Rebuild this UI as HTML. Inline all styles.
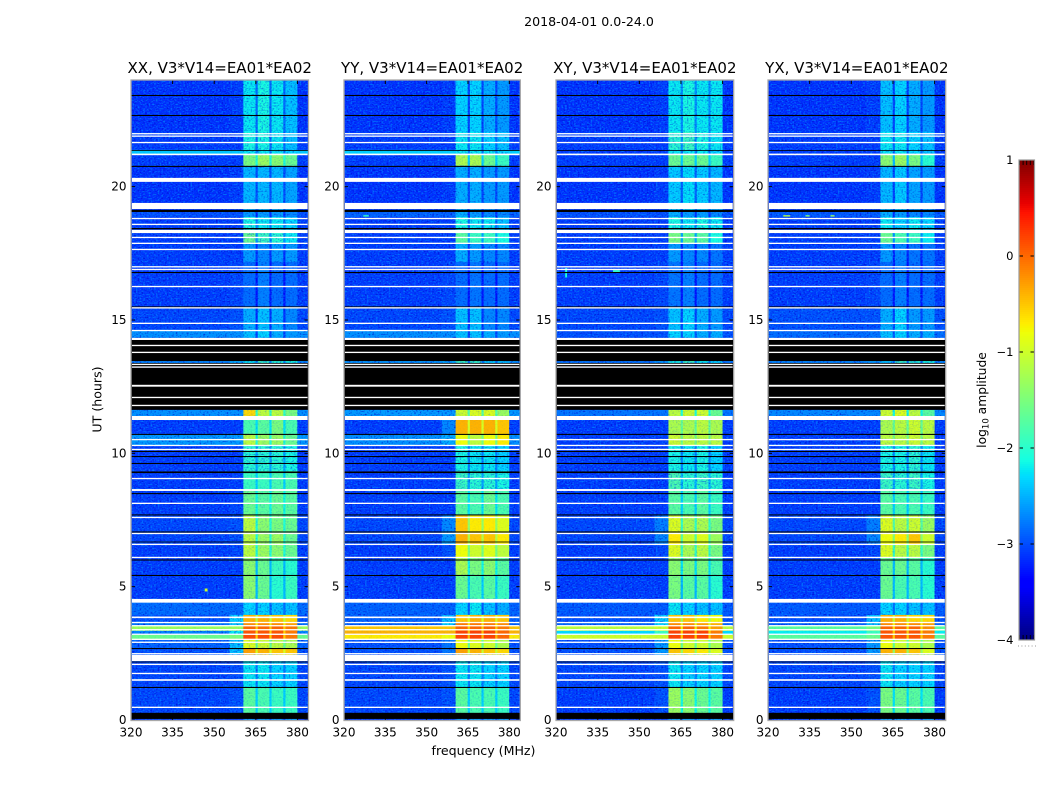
<!DOCTYPE html>
<html lang="en">
<head>
<meta charset="utf-8">
<title>2018-04-01 0.0-24.0 dynamic spectra</title>
<style>
html,body{margin:0;padding:0;background:#fff;}
svg{display:block;font-family:"DejaVu Sans","Liberation Sans",sans-serif;}
text{fill:#000;}
</style>
</head>
<body>
<svg id="figure" xmlns="http://www.w3.org/2000/svg" width="1050" height="800" viewBox="0 0 1050 800">
<defs>
<filter id="grainDark" x="0" y="0" width="1" height="1" color-interpolation-filters="sRGB">
<feTurbulence type="fractalNoise" baseFrequency="0.55 0.7" numOctaves="1" seed="4"/>
<feColorMatrix type="matrix" values="0 0 0 0 0  0 0 0 0 0  0 0 0 0 0.78  2.4 0 0 0 -1.2"/>
</filter>
<filter id="grainLight" x="0" y="0" width="1" height="1" color-interpolation-filters="sRGB">
<feTurbulence type="fractalNoise" baseFrequency="0.55 0.7" numOctaves="1" seed="11"/>
<feColorMatrix type="matrix" values="0 0 0 0 0  0 0 0 0 0.55  0 0 0 0 1  2.6 0 0 0 -1.25"/>
</filter>
</defs>
<text x="589" y="26" font-size="12.6" text-anchor="middle">2018-04-01 0.0-24.0</text>
<text x="483.5" y="755" font-size="12.6" text-anchor="middle">frequency (MHz)</text>
<text transform="translate(101.5 399.5) rotate(-90)" font-size="12.6" text-anchor="middle">UT (hours)</text>
<text transform="translate(986 400) rotate(-90)" font-size="12.3" text-anchor="middle">log<tspan font-size="8.5" dy="2.5">10</tspan><tspan dy="-2.5"> amplitude</tspan></text>
<g id="panels"></g>
<g id="colorbar"></g>
</svg>
<script>
// Axis domains and labels
const freqTicks = [320, 335, 350, 365, 380];
const hourTicks = [0, 5, 10, 15, 20];
const colorTicks = [1, 0, -1, -2, -3, -4];
const panelTitles = ['XX, V3*V14=EA01*EA02', 'YY, V3*V14=EA01*EA02', 'XY, V3*V14=EA01*EA02', 'YX, V3*V14=EA01*EA02'];
const freqDomain = [320, 384];
const hourDomain = [0, 24];
const colorDomain = [-4, 1];

// Frequency edges (MHz): off-band, shoulder, four sub-bands with gaps, off-band
const subbandEdges = [[360.5, 364.9], [365.7, 369.9], [370.7, 374.9], [375.7, 380]];
const shoulderStart = 355.5;

// Upper hour edge of each science row (UT hours), final entry is the lower edge of the last row
const rowEdges = [24, 22.05, 21.38, 21.19, 20.78, 19.13, 18.86, 18.26, 17.89, 17.18, 15.49, 14.63, 14.33, 13.46, 13.39, 11.63, 11.4, 11.25, 10.73, 10.31, 9.34, 8.63, 7.69, 7.01, 6.6, 6.11, 5.44, 4.54, 4.43, 3.94, 3.68, 3.53, 3.34, 3.19, 3.0, 2.7, 2.44, 2.21, 1.2, 0.26, 0];

// log10 amplitude per row: [off-band, shoulder, sub1, sub2, sub3, sub4]
const levelsXX = [
[-3.15,-3.1,-2.2,-2.1,-2.2,-2.4],[-3.1,-3.1,-2.1,-2.1,-2.2,-2.4],[-2.4,-2.4,-2.2,-2.2,-2.2,-2.3],[-3.1,-3.1,-1.5,-1.3,-1.4,-1.6],
[-3.15,-3.1,-2.45,-2.45,-2.45,-2.55],[-3.0,-3.0,-2.6,-2.6,-2.6,-2.7],[-3.1,-3.1,-2.1,-2.2,-2.2,-2.3],[-3.1,-3.1,-1.6,-1.9,-2.0,-2.2],
[-3.1,-3.1,-2.6,-2.7,-2.6,-2.6],[-3.1,-3.05,-2.85,-2.75,-2.85,-2.85],[-3.05,-3.0,-2.5,-2.4,-2.5,-2.7],[-2.65,-2.65,-2.4,-2.3,-2.5,-2.6],
[-3.1,-3.1,-3,-3,-3,-3],[-2.7,-2.5,-2.2,-1.9,-2.0,-2.1],[-3.1,-3.1,-3,-3,-3,-3],[-2.65,-2.65,-0.6,-1.1,-1.1,-1.5],
[-3.1,-3.1,-2,-2,-2,-2],[-3.1,-3.1,-1.8,-1.7,-1.5,-1.8],[-2.6,-2.6,-1.1,-1.3,-1.3,-1.6],[-3.1,-3.1,-2.0,-2.0,-2.0,-2.1],
[-3.1,-3.1,-1.9,-1.9,-1.8,-1.8],[-3.1,-3.05,-1.6,-1.7,-1.6,-1.7],[-3.05,-3.0,-1.1,-1.4,-1.5,-1.6],[-3.05,-3.0,-1.1,-1.3,-1.3,-1.6],
[-3.1,-3.05,-1.1,-1.3,-1.4,-1.6],[-3.1,-3.1,-1.4,-1.6,-1.9,-2.0],[-3.1,-3.1,-1.4,-1.6,-2.0,-1.9],[-3,-3,-2,-2,-2,-2],
[-2.85,-2.85,-2.3,-2.3,-2.4,-2.4],[-3.0,-2.3,-0.4,-0.4,-0.5,-0.6],[-2.8,-2.4,-0.2,-0.2,-0.2,-0.3],[-1.3,-1.3,0,0,0,-0.1],[-2.7,-2.2,0.1,0.1,0.1,-0.1],[-1.6,-1.5,0.15,0.15,0.15,-0.1],
[-2.9,-2.4,-0.9,-1.0,-1.1,-1.2],[-3.0,-2.4,-0.3,-0.4,-0.5,-0.5],[-3,-3,-2,-2,-2,-2],[-3.05,-3.0,-2.2,-2.2,-2.3,-2.3],
[-3.05,-3.0,-1.7,-1.8,-1.9,-1.9],[-3.1,-3.1,-2.6,-2.6,-2.6,-2.6]];
const levelsYY = [
[-3.15,-3.1,-2.3,-2.3,-2.5,-2.6],[-3.1,-3.1,-2.2,-2.2,-2.3,-2.4],[-2.35,-2.35,-2.2,-2.2,-2.2,-2.3],[-3.1,-3.1,-1.2,-1.2,-1.6,-1.9],
[-3.15,-3.1,-2.5,-2.5,-2.6,-2.6],[-2.9,-2.9,-2.5,-2.6,-2.7,-2.7],[-3.1,-3.1,-2.1,-2.2,-2.2,-2.4],[-3.1,-3.1,-1.7,-1.9,-1.9,-2.1],
[-3.1,-3.1,-2.5,-2.6,-2.7,-2.7],[-3.1,-3.05,-2.85,-2.8,-2.85,-2.85],[-3.05,-3.0,-2.4,-2.4,-2.7,-2.7],[-2.65,-2.65,-2.4,-2.4,-2.5,-2.6],
[-3.1,-3.1,-3,-3,-3,-3],[-2.6,-2.5,-1.9,-1.9,-2.3,-2.4],[-3.1,-3.1,-3,-3,-3,-3],[-2.6,-2.6,-1.0,-0.9,-0.9,-1.3],
[-3.1,-3.1,-2,-2,-2,-2],[-3.1,-2.7,-0.4,-0.4,-0.4,-0.5],[-2.65,-2.5,-0.8,-1.1,-0.8,-0.7],[-3.1,-3.1,-2.1,-2.2,-2.2,-2.3],
[-3.1,-3.1,-1.9,-2.0,-2.0,-2.1],[-3.1,-3.1,-1.7,-1.8,-1.6,-1.8],[-3.05,-2.7,-0.5,-0.7,-0.7,-0.9],[-3.05,-2.6,-0.4,-0.5,-0.5,-0.7],
[-3.1,-3.0,-0.8,-1.0,-0.9,-1.1],[-3.1,-3.1,-1.2,-1.5,-1.4,-1.7],[-3.1,-3.1,-1.6,-1.8,-1.7,-1.9],[-3,-3,-2,-2,-2,-2],
[-2.9,-2.9,-2.3,-2.2,-2.4,-2.5],[-2.9,-2.4,-0.5,-0.4,-0.4,-0.5],[-2.9,-2.3,-0.1,-0.1,-0.1,-0.2],[-0.5,-0.5,0,0,0,-0.1],[-0.4,-0.4,0.2,0.2,0.2,0],[-0.7,-0.8,0.2,0.2,0.2,0],
[-3.0,-2.8,-0.8,-0.9,-1.0,-1.2],[-3.0,-2.8,-0.3,-0.4,-0.5,-0.6],[-3,-3,-2,-2,-2,-2],[-3.05,-3.0,-2.2,-2.2,-2.3,-2.3],
[-3.05,-3.0,-1.7,-1.8,-1.8,-1.9],[-3.1,-3.1,-2.6,-2.6,-2.6,-2.6]];
const levelsXY = [
[-3.15,-3.1,-2.2,-2.1,-2.2,-2.2],[-3.1,-3.1,-2.0,-1.9,-2.1,-2.2],[-3.1,-3.1,-2.2,-2.2,-2.2,-2.3],[-3.1,-3.1,-1.6,-1.6,-1.6,-1.9],
[-3.15,-3.1,-2.35,-2.25,-2.35,-2.45],[-3.0,-3.0,-2.5,-2.6,-2.6,-2.7],[-3.1,-3.1,-2.1,-2.2,-2.1,-2.2],[-3.1,-3.1,-1.5,-1.6,-1.7,-2.1],
[-3.1,-3.1,-2.6,-2.7,-2.7,-2.8],[-3.1,-3.05,-2.8,-2.75,-2.85,-2.85],[-3.05,-3.0,-2.4,-2.3,-2.5,-2.6],[-3.0,-3.0,-2.3,-2.3,-2.5,-2.5],
[-3.1,-3.1,-3,-3,-3,-3],[-2.8,-2.6,-2.1,-1.9,-2.2,-2.3],[-3.1,-3.1,-3,-3,-3,-3],[-2.8,-2.8,-1.1,-1.0,-1.0,-1.6],
[-3.1,-3.1,-2,-2,-2,-2],[-3.1,-3.1,-1.2,-1.2,-1.1,-1.2],[-3.1,-3.1,-1.0,-1.1,-1.1,-1.1],[-3.1,-3.1,-2.1,-2.2,-2.1,-2.3],
[-3.1,-3.1,-1.8,-2.0,-1.9,-2.0],[-3.1,-3.1,-1.7,-1.8,-1.7,-1.9],[-3.05,-2.75,-0.9,-1.2,-1.2,-1.5],[-3.05,-2.7,-0.7,-1.0,-0.9,-1.3],
[-3.1,-3.05,-0.9,-1.2,-1.1,-1.5],[-3.1,-3.1,-1.4,-1.5,-1.5,-1.8],[-3.1,-3.1,-1.5,-1.7,-1.7,-2.0],[-3,-3,-2,-2,-2,-2],
[-2.95,-2.95,-2.2,-2.3,-2.4,-2.4],[-3.0,-2.3,-0.5,-0.5,-0.7,-0.8],[-2.9,-2.3,-0.2,-0.2,-0.3,-0.4],[-1.1,-1.0,0,0,-0.1,-0.3],[-2.3,-1.9,0.2,0.2,0.2,-0.1],[-1.0,-1.0,0.2,0.2,0.2,-0.1],
[-3.0,-2.6,-0.8,-1.0,-1.0,-1.2],[-3.0,-2.6,-0.5,-0.6,-0.7,-0.9],[-3,-3,-2,-2,-2,-2],[-3.05,-3.0,-2.2,-2.3,-2.3,-2.3],
[-3.1,-3.0,-1.3,-1.4,-1.6,-1.7],[-3.1,-3.1,-2.6,-2.6,-2.6,-2.6]];
const levelsYX = [
[-3.15,-3.1,-2.4,-2.3,-2.5,-2.6],[-3.1,-3.1,-2.2,-2.2,-2.3,-2.4],[-3.1,-3.1,-2.2,-2.2,-2.3,-2.4],[-3.1,-3.1,-1.4,-1.3,-1.5,-2.0],
[-3.15,-3.1,-2.45,-2.35,-2.55,-2.6],[-2.95,-2.95,-2.5,-2.6,-2.7,-2.7],[-3.1,-3.1,-2.2,-2.3,-2.2,-2.3],[-3.1,-3.1,-1.6,-1.8,-1.9,-2.2],
[-3.1,-3.1,-2.6,-2.7,-2.8,-2.8],[-3.1,-3.05,-2.85,-2.75,-2.85,-2.85],[-3.0,-3.0,-2.5,-2.3,-2.6,-2.6],[-2.85,-2.8,-2.4,-2.3,-2.5,-2.5],
[-3.1,-3.1,-3,-3,-3,-3],[-2.7,-2.6,-2.4,-1.9,-2.0,-2.1],[-3.1,-3.1,-3,-3,-3,-3],[-2.7,-2.7,-1.0,-0.9,-1.1,-1.7],
[-3.1,-3.1,-2,-2,-2,-2],[-3.1,-3.1,-1.2,-1.1,-1.0,-1.1],[-3.1,-3.1,-1.1,-1.1,-1.0,-1.1],[-3.1,-3.1,-2.1,-2.1,-2.0,-2.2],
[-3.1,-3.1,-1.9,-2.0,-1.9,-2.1],[-3.1,-3.1,-1.7,-1.8,-1.8,-1.9],[-3.05,-2.75,-0.9,-1.1,-1.0,-1.3],[-3.05,-2.7,-0.8,-0.7,-0.5,-1.0],
[-3.1,-3.05,-0.9,-1.1,-1.1,-1.5],[-3.1,-3.1,-1.6,-1.6,-1.7,-2.0],[-3.1,-3.1,-1.6,-1.8,-1.8,-2.0],[-3,-3,-2,-2,-2,-2],
[-2.95,-2.95,-2.3,-2.3,-2.4,-2.4],[-3.0,-2.4,-0.4,-0.4,-0.6,-0.6],[-2.9,-2.4,-0.2,-0.2,-0.2,-0.3],[-1.7,-1.5,0,0,0,-0.2],[-2.2,-1.9,0.1,0.1,0.1,-0.1],[-1.7,-1.6,0.1,0.1,0.1,-0.1],
[-3.0,-2.6,-0.8,-1.0,-1.0,-1.2],[-3.0,-2.6,-0.4,-0.4,-0.5,-0.9],[-3,-3,-2,-2,-2,-2],[-3.05,-3.0,-2.2,-2.3,-2.3,-2.3],
[-3.1,-3.0,-1.5,-1.6,-1.7,-1.8],[-3.1,-3.1,-2.6,-2.6,-2.6,-2.6]];
const panelLevels = [levelsXX, levelsYY, levelsXY, levelsYX];

// Isolated interference: [panel, start MHz, end MHz, upper hour, lower hour, log10 amplitude]
const spikes = [[0,346.6,347.6,4.93,4.82,-1.0],[0,344.6,345.4,14.9,14.85,-1.0],[1,327,329,18.93,18.88,-1.9],[3,325.5,328,18.93,18.88,-1.1],[3,333.5,335,18.93,18.88,-1.4],[3,342.5,344,18.93,18.88,-1.3],[2,323.3,324,16.95,16.6,-2.1],[2,340.5,343,16.87,16.8,-2.0]];

// Zero-amplitude (black) and flagged (white) time ranges, UT hours [upper, lower]
const blackHours = [[23.44,23.40],[22.69,22.65],[21.37,21.34],[20.78,20.74],[19.13,19.05],[18.45,18.40],[16.80,16.76],[15.51,15.47],[14.25,13.46],[13.39,13.21],[13.21,11.63],[10.73,10.69],[10.09,10.05],[9.90,9.86],[9.64,9.60],[9.32,9.26],[8.51,8.47],[7.71,7.67],[7.07,7.03],[6.69,6.66],[6.02,5.98],[5.44,5.40],[2.70,2.66],[2.19,2.16],[1.24,1.20],[0.27,0.04]];
const whiteHours = [[22.01,21.96],[21.92,21.87],[21.68,21.63],[21.24,21.18],[20.33,20.18],[19.39,19.16],[18.83,18.78],[18.61,18.56],[18.38,18.26],[18.12,18.07],[17.90,17.85],[17.67,17.62],[17.02,16.97],[16.92,16.87],[16.28,16.23],[15.48,15.43],[14.90,14.85],[14.63,14.58],[14.33,14.25],[14.07,14.02],[13.81,13.76],[13.36,13.31],[13.26,13.21],[12.57,12.50],[12.12,12.07],[11.82,11.77],[11.40,11.25],[10.54,10.49],[10.32,10.27],[10.17,10.12],[9.08,9.03],[8.66,8.59],[8.15,8.10],[7.62,7.57],[7.02,6.97],[6.61,6.56],[6.12,6.07],[4.54,4.40],[3.88,3.82],[3.68,3.63],[3.56,3.51],[3.41,3.36],[3.24,3.19],[3.05,3.00],[2.94,2.89],[2.51,2.46],[2.44,2.21],[2.11,2.06],[1.77,1.72],[1.53,1.47],[0.50,0.45]];

// Layout
const plotLeft = [131, 344, 556, 768];
const plotRight = [308.5, 520.3, 733.7, 945.7];
const plotTop = 80, plotBottom = 720.5;
const barLeft = 1019, barRight = 1034.5, barTop = 160, barBottom = 640;
const NS = 'http://www.w3.org/2000/svg';

function make(tag, attrs, parent, text) {
  const el = document.createElementNS(NS, tag);
  for (const k in attrs) el.setAttribute(k, attrs[k]);
  if (text !== undefined) el.textContent = text;
  parent.appendChild(el);
  return el;
}
function seg(p, pts) {
  for (let i = 1; i < pts.length; i++) {
    if (p <= pts[i][0]) {
      const a = pts[i - 1], b = pts[i];
      return a[1] + (b[1] - a[1]) * (p - a[0]) / (b[0] - a[0]);
    }
  }
  return pts[pts.length - 1][1];
}
function jet(v) {
  const p = Math.max(0, Math.min(1, (v - colorDomain[0]) / (colorDomain[1] - colorDomain[0])));
  const r = seg(p, [[0,0],[.35,0],[.66,1],[.89,1],[1,.5]]);
  const g = seg(p, [[0,0],[.125,0],[.375,1],[.64,1],[.91,0],[1,0]]);
  const b = seg(p, [[0,.5],[.11,1],[.34,1],[.65,0],[1,0]]);
  return 'rgb(' + Math.round(r * 255) + ',' + Math.round(g * 255) + ',' + Math.round(b * 255) + ')';
}
function yScale(h) {
  return plotBottom - 0.5 - (h - hourDomain[0]) / (hourDomain[1] - hourDomain[0]) * (plotBottom - 0.5 - plotTop);
}
function xScaleFor(i) {
  return function (f) {
    return plotLeft[i] + (f - freqDomain[0]) / (freqDomain[1] - freqDomain[0]) * (plotRight[i] - plotLeft[i]);
  };
}

const panelsRoot = document.getElementById('panels');

panelTitles.forEach(function (title, i) {
  const x = xScaleFor(i);
  const g = make('g', {}, panelsRoot);
  
  

  const levels = panelLevels[i];
  levels.forEach(function (row, r) {
    const y0 = yScale(rowEdges[r]), y1 = yScale(rowEdges[r + 1]);
    const gap = Math.min(row[2], row[3], row[4], row[5]) - 0.45;
    const columns = [
      [freqDomain[0], shoulderStart, row[0]],
      [shoulderStart, subbandEdges[0][0], row[1]],
      [subbandEdges[0][0], subbandEdges[0][1], row[2]],
      [subbandEdges[0][1], subbandEdges[1][0], gap],
      [subbandEdges[1][0], subbandEdges[1][1], row[3]],
      [subbandEdges[1][1], subbandEdges[2][0], gap],
      [subbandEdges[2][0], subbandEdges[2][1], row[4]],
      [subbandEdges[2][1], subbandEdges[3][0], gap],
      [subbandEdges[3][0], subbandEdges[3][1], row[5]],
      [subbandEdges[3][1], freqDomain[1], row[0]]
    ];
    columns.forEach(function (c) {
      const cell = make('rect', {x: x(c[0]).toFixed(2), y: y0.toFixed(2), width: (x(c[1]) - x(c[0]) + 0.3).toFixed(2), height: (y1 - y0 + 0.3).toFixed(2), fill: jet(c[2])}, g);
      
      
    });

    // Pixel-level texture: strong on faint rows, almost none on bright rows
    const bandMean = (row[2] + row[3] + row[4] + row[5]) / 4;
    const offStrength = row[0] < -2.5 ? 1 : 0.1;
    const onStrength = bandMean < -1.9 ? 0.7 : (bandMean < -1 ? 0.25 : 0.08);
    [[freqDomain[0], subbandEdges[0][0], offStrength], [subbandEdges[0][0], subbandEdges[3][1], onStrength], [subbandEdges[3][1], freqDomain[1], offStrength]].forEach(function (zone) {
      ['grainDark', 'grainLight'].forEach(function (fid) {
        const n = make('rect', {x: x(zone[0]).toFixed(2), y: y0.toFixed(2), width: (x(zone[1]) - x(zone[0])).toFixed(2), height: (y1 - y0).toFixed(2), filter: 'url(#' + fid + ')', opacity: zone[2]}, g);
        
        
      });
    });
  });

  spikes.filter(function (s) { return s[0] === i; }).forEach(function (s) {
    const el = make('rect', {x: x(s[1]).toFixed(2), y: yScale(s[3]).toFixed(2), width: (x(s[2]) - x(s[1])).toFixed(2), height: (yScale(s[4]) - yScale(s[3])).toFixed(2), fill: jet(s[5])}, g);
    
    
  });

  blackHours.forEach(function (b) {
    const el = make('rect', {x: plotLeft[i], y: yScale(b[0]).toFixed(2), width: plotRight[i] - plotLeft[i], height: (yScale(b[1]) - yScale(b[0])).toFixed(2), fill: '#000'}, g);
    
    
  });
  whiteHours.forEach(function (b) {
    const el = make('rect', {x: plotLeft[i] + 1, y: yScale(b[0]).toFixed(2), width: plotRight[i] - plotLeft[i] - 2, height: (yScale(b[1]) - yScale(b[0])).toFixed(2), fill: '#fff'}, g);
    
    
  });

  freqTicks.forEach(function (f) {
    const px = x(f);
    const t1 = make('line', {x1: px, x2: px, y1: plotBottom, y2: plotBottom - 4, stroke: '#000', 'stroke-width': 1}, g);
    
    
    const t2 = make('line', {x1: px, x2: px, y1: plotTop, y2: plotTop + 4, stroke: '#000', 'stroke-width': 1}, g);
    
    
    const lab = make('text', {x: px, y: 736.5, 'font-size': 12, 'text-anchor': 'middle'}, g, String(f));
    
    
  });
  hourTicks.forEach(function (h) {
    const py = yScale(h);
    const t1 = make('line', {x1: plotLeft[i], x2: plotLeft[i] + 4, y1: py, y2: py, stroke: '#000', 'stroke-width': 1}, g);
    
    
    const t2 = make('line', {x1: plotRight[i], x2: plotRight[i] - 4, y1: py, y2: py, stroke: '#000', 'stroke-width': 1}, g);
    
    
    const lab = make('text', {x: plotLeft[i] - 4.5, y: py + 4, 'font-size': 12, 'text-anchor': 'end'}, g, String(h));
    
    
  });

  const frame = make('rect', {x: plotLeft[i], y: plotTop, width: plotRight[i] - plotLeft[i], height: plotBottom - plotTop, fill: 'none', stroke: '#a8a8a8', 'stroke-width': 1.3}, g);
  
  

  const ttl = make('text', {x: (plotLeft[i] + plotRight[i]) / 2, y: 73, 'font-size': 15, 'text-anchor': 'middle'}, g, title);
  
  
});

// Colorbar
const cbar = document.getElementById('colorbar');
function barY(v) {
  return barBottom - (v - colorDomain[0]) / (colorDomain[1] - colorDomain[0]) * (barBottom - barTop);
}
for (let py = barTop; py < barBottom; py += 2) {
  const v = colorDomain[1] - (py + 1 - barTop) / (barBottom - barTop) * (colorDomain[1] - colorDomain[0]);
  const s = make('rect', {x: barLeft, y: py, width: barRight - barLeft, height: 2.2, fill: jet(v)}, cbar);
  
  
}
colorTicks.forEach(function (v) {
  const py = barY(v);
  if (v !== colorDomain[0] && v !== colorDomain[1]) {
    const a = make('line', {x1: barLeft, x2: barLeft + 4, y1: py, y2: py, stroke: '#000', 'stroke-width': 1}, cbar);
    
    
    const b = make('line', {x1: barRight, x2: barRight - 4, y1: py, y2: py, stroke: '#000', 'stroke-width': 1}, cbar);
    
    
  }
  const lab = make('text', {x: 1013.5, y: py + 4, 'font-size': 11.5, 'text-anchor': 'end'}, cbar, v < 0 ? '\u2212' + Math.abs(v) : String(v));
  
  
});
for (let k = 0; k < 5; k++) {
  const px = barLeft + 0.5 + k * 3.6;
  const t = make('line', {x1: px, x2: px, y1: barTop, y2: barTop + 5, stroke: '#000', 'stroke-width': 0.9}, cbar);
  
  
  const u = make('line', {x1: px, x2: px, y1: barBottom, y2: barBottom - 5, stroke: '#000', 'stroke-width': 0.9}, cbar);
  
  
}
for (let k = 0; k < 6; k++) {
  const d = make('rect', {x: barLeft - 1 + k * 3.4, y: 645.5, width: 1, height: 1, fill: '#999'}, cbar);
  
  
}
const barFrame = make('rect', {x: barLeft, y: barTop, width: barRight - barLeft, height: barBottom - barTop, fill: 'none', stroke: '#9a9a9a', 'stroke-width': 1.2}, cbar);


</script>
</body>
</html>
